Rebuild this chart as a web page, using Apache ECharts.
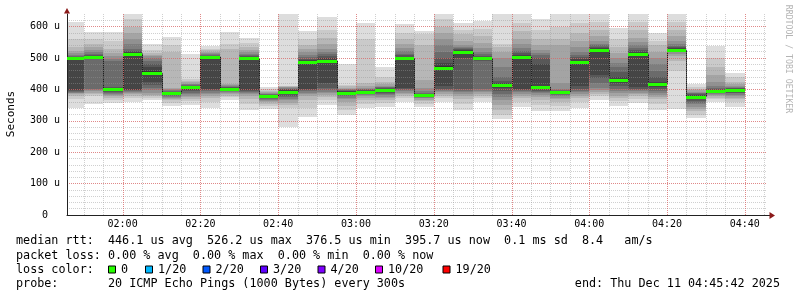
<!DOCTYPE html>
<html><head><meta charset="utf-8">
<script src="https://cdn.jsdelivr.net/npm/echarts@6/dist/echarts.min.js"></script>
<style>html,body{margin:0;padding:0;background:#fff}#c{width:797px;height:297px}</style>
</head><body><div id="c"></div>
<script>
// ---- data ----
const axisStart = '01:45:42';
const axisEnd = '04:45:42';
const colEnd = ['01:50','01:55','02:00','02:05','02:10','02:15','02:20','02:25','02:30','02:35','02:40','02:45','02:50','02:55',
  '03:00','03:05','03:10','03:15','03:20','03:25','03:30','03:35','03:40','03:45','03:50','03:55',
  '04:00','04:05','04:10','04:15','04:20','04:25','04:30','04:35','04:40'];
const median = [499,503,401,514,451,387,408,504,402,499,377.5,393,488,491,390,393,398,500,381,469,519,499,413,504,408,391,487,526,430,513,416,526,376.5,395,398];
const smoke = [
  [342,370,380,385,388,390,392,395,398,495,499,500,503,506,510,515,522,535,560,614],
  [353,378,385,390,394,397,400,497,500,502,504,506,508,512,518,525,535,545,560,582],
  [356,365,372,378,382,386,389,392,395,398,403,405,408,490,498,505,515,530,555,582],
  [359,372,380,385,389,392,395,397,399,510,514,518,522,530,545,560,580,600,625,660],
  [366,372,378,383,390,398,405,415,425,445,457,470,480,490,500,505,510,515,525,544],
  [347,358,365,370,374,377,380,382,384,386,388,390,392,395,398,400,405,520,540,566],
  [350,362,370,375,380,385,390,395,398,402,406,410,412,414,416,418,422,428,432,513],
  [341,360,372,380,385,390,394,397,400,500,503,505,507,510,513,516,520,525,530,538],
  [366,376,380,384,388,391,394,396,398,400,403,405,407,409,411,413,416,530,545,582],
  [335,352,368,378,384,388,392,396,399,496,500,503,506,510,514,518,524,535,548,563],
  [338,348,355,360,364,367,370,372,374,376,378,380,382,384,386,389,392,396,401,407],
  [280,340,350,358,365,370,375,380,385,390,396,398,400,402,404,406,408,410,412,660],
  [313,340,365,378,385,390,394,397,400,485,490,494,498,503,510,518,528,540,560,586],
  [350,365,375,382,388,393,398,405,420,488,494,500,506,512,520,530,545,565,590,630],
  [319,335,348,360,368,374,378,381,384,387,392,394,396,398,400,402,405,410,415,481],
  [340,355,365,372,378,382,385,388,390,392,394,396,398,400,402,405,410,420,560,611],
  [345,358,366,372,377,382,386,390,394,396,400,402,404,406,408,412,418,425,440,471],
  [361,372,380,385,390,394,397,400,404,497,500,504,508,514,522,532,545,560,580,609],
  [345,355,362,367,371,374,376,378,379,380,382,384,386,390,395,405,430,540,575,587],
  [361,372,380,386,391,395,398,402,410,465,473,485,500,520,540,560,580,600,625,660],
  [335,355,370,380,386,391,395,400,500,515,522,525,528,532,536,542,555,575,590,611],
  [361,372,380,386,391,395,400,490,496,498,500,503,507,512,520,532,548,570,592,618],
  [306,318,335,350,365,376,385,395,405,411,415,420,428,440,470,500,520,536,545,660],
  [345,360,372,380,386,391,395,398,402,500,506,510,515,522,532,545,560,585,610,660],
  [332,350,365,375,382,388,392,396,400,404,410,480,500,508,515,525,540,560,590,624],
  [331,348,360,368,374,378,382,385,388,390,392,394,396,398,402,420,540,560,600,660],
  [340,360,372,380,386,392,396,400,410,484,490,496,502,510,520,535,555,580,610,660],
  [366,378,385,392,398,405,420,435,445,524,528,532,536,540,546,555,570,590,615,660],
  [347,362,372,380,388,395,402,410,420,428,432,440,455,470,485,500,515,535,560,595],
  [358,370,378,385,390,395,398,402,408,510,516,520,525,532,540,550,565,590,615,660],
  [335,355,368,376,383,390,396,402,408,414,418,425,440,460,480,500,520,540,555,579],
  [337,460,490,505,512,518,522,525,527,528,529,531,534,538,545,555,570,590,615,660],
  [308,320,330,338,345,352,358,364,369,374,378,381,384,387,390,393,397,402,408,417],
  [361,368,374,379,383,386,389,391,393,394,396,398,401,405,412,425,445,470,500,538],
  [345,360,368,374,379,383,387,390,393,396,399,401,403,405,408,412,418,425,440,453]
];
const yMax = 640;
const xMajorStep = 20;   // minutes between labelled grid lines
const xMinorStep = 5;    // minutes between minor grid lines
const lossLabels = ['0','1/20','2/20','3/20','4/20','10/20','19/20'];
const lossColors = ['#26ff00','#00b8ff','#0059ff','#5e00ff','#7e00ff','#dd00ff','#ff0000'];
const statLines = [
  'median rtt:  446.1 us avg  526.2 us max  376.5 us min  395.7 us now  0.1 ms sd  8.4   am/s',
  'packet loss: 0.00 % avg  0.00 % max  0.00 % min  0.00 % now'
];
const probeText = 'probe:       20 ICMP Echo Pings (1000 Bytes) every 300s';
const endText = 'end: Thu Dec 11 04:45:42 2025';

// ---- helpers ----
// x values are minutes since midnight
function mins(s){ const p=s.split(':').map(Number); return p[0]*60+p[1]+(p[2]||0)/60; }
function hhmm(v){ const m=Math.round(v); const h=Math.floor(m/60), mm=m%60; return (h<10?'0':'')+h+':'+(mm<10?'0':'')+mm; }
const xMin = mins(axisStart), xMax = mins(axisEnd);
const STEP = 5;
const mono = "'DejaVu Sans Mono', monospace";
const bandGray = i => { const g = Math.floor(190/10*(10-i))+50; return 'rgb('+g+','+g+','+g+')'; };

const chart = echarts.init(document.getElementById('c'), null, {renderer:'canvas'});
const data = colEnd.map((t,i)=>[mins(t), median[i]]);

const smokeSeries = {
  type:'custom', z:1, clip:true, xAxisIndex:0, yAxisIndex:0,
  encode:{x:0,y:1}, data:data, silent:true,
  renderItem:function(params, api){
    const i = params.dataIndex;
    const tEnd = api.value(0);
    const x0 = Math.round(api.coord([Math.max(tEnd-STEP, xMin), 0])[0]);
    const x1 = Math.round(api.coord([tEnd, 0])[0]);
    const ch = [];
    const s = smoke[i];
    for (let b=0;b<10;b++){
      const lo = s[b], hi = Math.min(s[19-b], yMax);
      const y0 = Math.round(api.coord([tEnd, lo])[1]);
      const y1 = Math.round(api.coord([tEnd, hi])[1]);
      ch.push({type:'rect', shape:{x:x0,y:y1,width:x1-x0,height:y0-y1}, style:{fill:bandGray(b+1)}});
    }
    if (i>0){
      const ya = api.coord([tEnd, median[i-1]])[1];
      const yb = api.coord([tEnd, median[i]])[1];
      ch.push({type:'line', shape:{x1:x0+0.5,y1:ya,x2:x0+0.5,y2:yb}, style:{stroke:'#202020',lineWidth:1}});
    }
    return {type:'group', children:ch};
  }
};
const medianSeries = {
  type:'custom', z:10, clip:true, xAxisIndex:0, yAxisIndex:0,
  encode:{x:0,y:1}, data:data, silent:true,
  renderItem:function(params, api){
    const tEnd = api.value(0);
    const x0 = Math.round(api.coord([Math.max(tEnd-STEP, xMin), 0])[0]);
    const x1 = Math.round(api.coord([tEnd, 0])[0]);
    const y = Math.round(api.coord([tEnd, api.value(1)])[1]);
    return {type:'rect', shape:{x:x0,y:y-1,width:x1-x0,height:3}, style:{fill:lossColors[0]}};
  }
};
// vertical time grid lines drawn through the x scale at whole-minute positions
function vGridSeries(step, color, z){
  const vals = [];
  for (let m = Math.ceil(xMin/step)*step; m < xMax; m += step) vals.push([m, 0]);
  return {
    type:'custom', z:z, silent:true, xAxisIndex:0, yAxisIndex:0, encode:{x:0,y:1}, data:vals,
    renderItem:function(params, api){
      const x = Math.round(api.coord([api.value(0),0])[0]) + 0.5;
      const yb = api.coord([api.value(0),0])[1];
      const yt = api.coord([api.value(0),yMax])[1];
      return {type:'line', shape:{x1:x,y1:yb,x2:x,y2:yt}, style:{stroke:color, lineWidth:1, lineDash:[1,1]}};
    }
  };
}

const redColor = 'rgba(235,90,90,0.6)';
const grayColor = 'rgba(150,150,150,0.45)';
const redGrid = {show:true, lineStyle:{color:redColor, type:[1,1], width:1}, showMinLine:false, showMaxLine:false};
const grayGrid = {show:true, lineStyle:{color:grayColor, type:[1,1], width:1}, showMinLine:false, showMaxLine:false};

const graphics = [];
graphics.push({type:'polygon', shape:{points:[[64,13.5],[70,13.5],[67,8]]}, style:{fill:'#8b1a1a'}, z:20});
graphics.push({type:'line', shape:{x1:767,y1:215.5,x2:770,y2:215.5}, style:{stroke:'#222',lineWidth:1}, z:20});
graphics.push({type:'polygon', shape:{points:[[769.5,212],[769.5,219],[775,215.5]]}, style:{fill:'#8b1a1a'}, z:20});
graphics.push({type:'text', x:11, y:114, rotation:Math.PI/2, style:{text:'Seconds', font:'11px '+mono, fill:'#000', align:'center', verticalAlign:'middle'}, z:20});
graphics.push({type:'text', x:788, y:59, rotation:-Math.PI/2, style:{text:'RRDTOOL / TOBI OETIKER', font:'8.2px '+mono, fill:'#b4b4b4', align:'center', verticalAlign:'middle'}, z:20});
const rowY = [241, 255.5, 269.5, 283.5];
const legFont = '11.75px '+mono;
statLines.forEach((t,k)=>graphics.push({type:'text', x:16, y:rowY[k], style:{text:t, font:legFont, fill:'#000', verticalAlign:'middle'}, z:20}));
graphics.push({type:'text', x:16, y:rowY[2], style:{text:'loss color:', font:legFont, fill:'#000', verticalAlign:'middle'}, z:20});
const boxX = [108.5,145.5,203,260.5,318,375.5,443];
lossLabels.forEach((l,k)=>{
  graphics.push({type:'rect', shape:{x:boxX[k],y:rowY[2]-3.5,width:7,height:7}, style:{fill:lossColors[k], stroke:'#000', lineWidth:1}, z:20});
  graphics.push({type:'text', x:boxX[k]+12.5, y:rowY[2], style:{text:l, font:legFont, fill:'#000', verticalAlign:'middle'}, z:20});
});
graphics.push({type:'text', x:16, y:rowY[3], style:{text:probeText, font:legFont, fill:'#000', verticalAlign:'middle'}, z:20});
graphics.push({type:'text', x:780, y:rowY[3], style:{text:endText, font:legFont, fill:'#000', align:'right', verticalAlign:'middle'}, z:20});

chart.setOption({
  animation:false,
  backgroundColor:'#fff',
  grid:{left:67, right:30, top:14, bottom:82, containLabel:false},
  xAxis:[
    {type:'value', min:xMin, max:xMax, splitNumber:9, z:6,
     axisLine:{show:true, onZero:false, lineStyle:{color:'#222', width:1}}, axisTick:{show:false},
     axisLabel:{formatter:hhmm, color:'#000', fontFamily:mono, fontSize:10, margin:4, showMinLabel:false, showMaxLabel:false, hideOverlap:false},
     splitLine:{show:false}}
  ],
  yAxis:[
    {type:'value', min:0, max:yMax, interval:100, z:6,
     axisLine:{show:true, onZero:false, lineStyle:{color:'#222', width:1}}, axisTick:{show:false},
     axisLabel:{formatter:v=>v===0?'0':v+' u', color:'#000', fontFamily:mono, fontSize:10, align:'center', margin:22, showMaxLabel:false},
     splitLine:redGrid},
    {type:'value', min:0, max:yMax, interval:20, z:5, position:'left',
     axisLine:{show:false}, axisTick:{show:false}, axisLabel:{show:false}, splitLine:grayGrid}
  ],
  series:[smokeSeries, vGridSeries(xMinorStep, grayColor, 4), vGridSeries(xMajorStep, redColor, 5), medianSeries],
  graphic:graphics
});
</script></body></html>
